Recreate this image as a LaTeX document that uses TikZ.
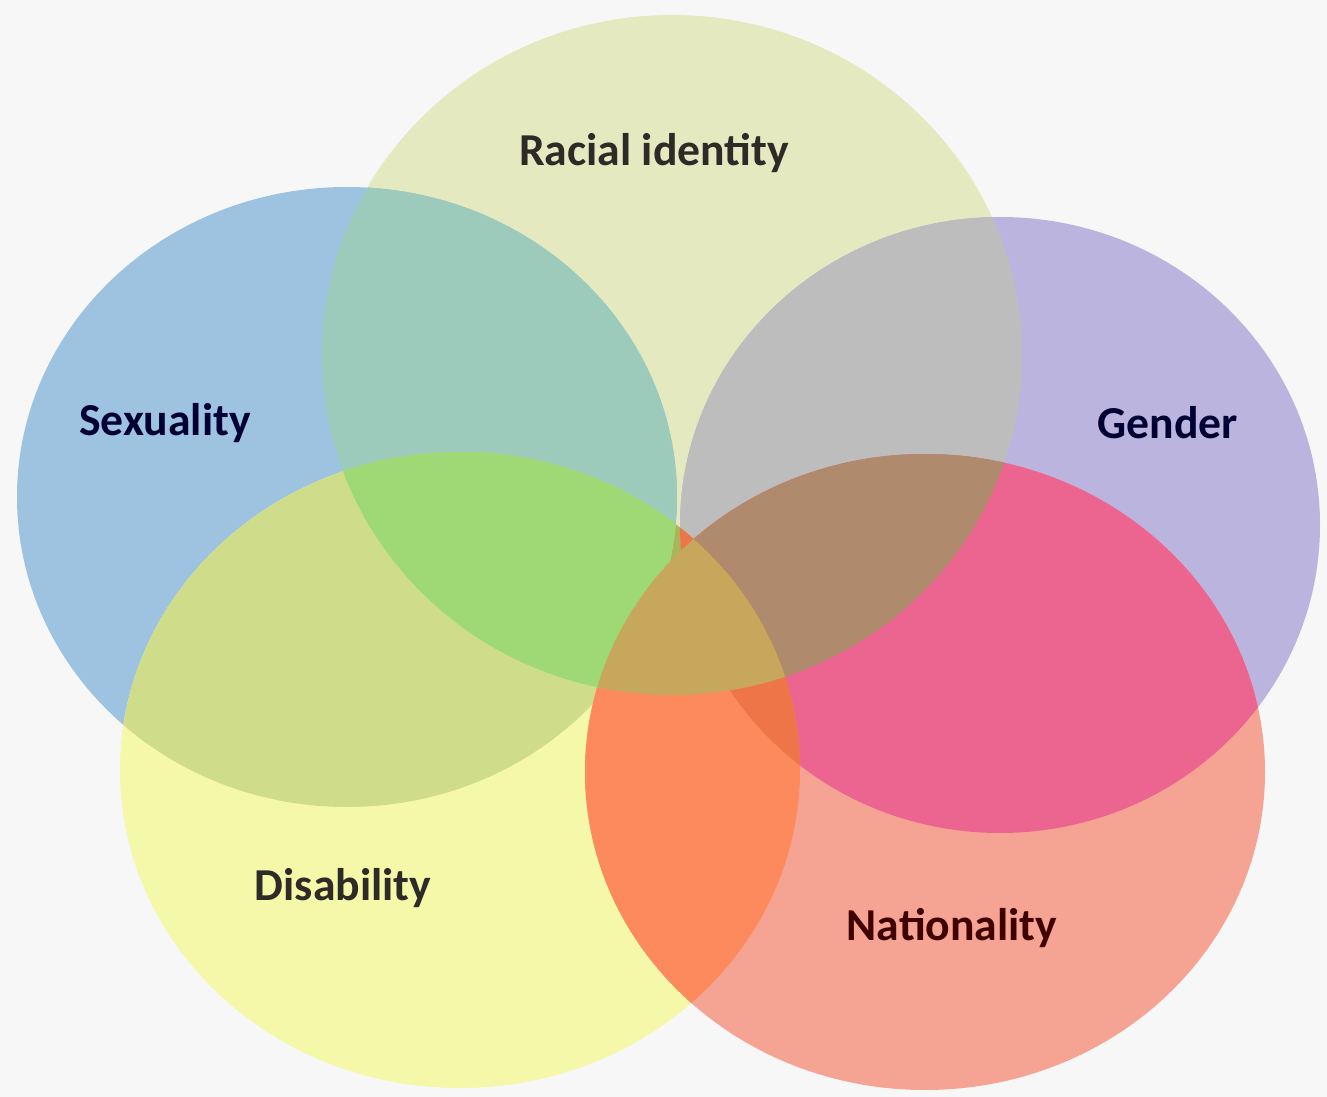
\documentclass[tikz,border=0pt]{standalone}
\usepackage{fontspec}
\setmainfont{Carlito}
\definecolor{bgcol}{HTML}{F7F7F7}
% the five sets
\definecolor{cR}{HTML}{E5E9C0}
\definecolor{cS}{HTML}{9DC3E0}
\definecolor{cG}{HTML}{BAB4DF}
\definecolor{cD}{HTML}{F5F8A8}
\definecolor{cN}{HTML}{F5A393}
% overlaps
\definecolor{cRS}{HTML}{9CCABB}
\definecolor{cRG}{HTML}{BDBDBD}
\definecolor{cSD}{HTML}{CFDD8A}
\definecolor{cGN}{HTML}{EC6591}
\definecolor{cDN}{HTML}{FD8A5D}
\definecolor{cRSD}{HTML}{9FD976}
\definecolor{cRGN}{HTML}{B08A6C}
\definecolor{cGDN}{HTML}{EE7548}
\definecolor{cRDN}{HTML}{C6A75C}
\definecolor{cRSG}{HTML}{6FA69A}
\definecolor{cOlive}{HTML}{A9B55A}
\newcommand{\pathRacial}{(6.72,-3.55) ellipse [x radius=3.5, y radius=3.4]}
\newcommand{\pathSex}{(3.47,-4.97) ellipse [x radius=3.3, y radius=3.1]}
\newcommand{\pathGender}{(10.0,-5.25) ellipse [x radius=3.2, y radius=3.08]}
\newcommand{\pathDis}{(4.6,-7.7) ellipse [x radius=3.4, y radius=3.18]}
\newcommand{\pathNat}{(9.25,-7.72) ellipse [x radius=3.4, y radius=3.18]}
\tikzset{
  lbl/.style={font=\bfseries\fontsize{13}{15}\selectfont, inner sep=0pt}
}
\begin{document}
\begin{tikzpicture}
    \useasboundingbox (0,0) rectangle (13.27,-10.97);
    \fill [bgcol] (0,0) rectangle (13.27,-10.97);
    % single sets
    \fill [cR] \pathRacial;
    \fill [cS] \pathSex;
    \fill [cG] \pathGender;
    \fill [cD] \pathDis;
    \fill [cN] \pathNat;
    % pairs
    \begin{scope} \clip \pathRacial; \fill [cRS] \pathSex; \end{scope}
    \begin{scope} \clip \pathRacial; \fill [cRG] \pathGender; \end{scope}
    \begin{scope} \clip \pathRacial; \fill [cOlive] \pathDis; \end{scope}
    \begin{scope} \clip \pathRacial; \fill [cRDN] \pathNat; \end{scope}
    \begin{scope} \clip \pathSex; \fill [cRSG] \pathGender; \end{scope}
    \begin{scope} \clip \pathSex; \fill [cSD] \pathDis; \end{scope}
    \begin{scope} \clip \pathSex; \fill [cRDN] \pathNat; \end{scope}
    \begin{scope} \clip \pathGender; \fill [cGDN] \pathDis; \end{scope}
    \begin{scope} \clip \pathGender; \fill [cGN] \pathNat; \end{scope}
    \begin{scope} \clip \pathDis; \fill [cDN] \pathNat; \end{scope}
    % triples
    \begin{scope} \clip \pathRacial; \clip \pathSex; \fill [cRSD] \pathDis; \end{scope}
    \begin{scope} \clip \pathRacial; \clip \pathSex; \fill [cRSG] \pathGender; \end{scope}
    \begin{scope} \clip \pathRacial; \clip \pathGender; \fill [cRGN] \pathNat; \end{scope}
    \begin{scope} \clip \pathGender; \clip \pathDis; \fill [cGDN] \pathNat; \end{scope}
    \begin{scope} \clip \pathRacial; \clip \pathDis; \fill [cRDN] \pathNat; \end{scope}
    % labels
    \node [lbl, text=black!90!olive] (racial) at (6.54,-1.53) {Racial identity};
    \node [lbl, text=black!80!blue] (sexuality) at (1.65,-4.23) {Sexuality};
    \node [lbl, text=black!80!blue] (gender) at (11.68,-4.23) {Gender};
    \node [lbl, text=black!90!olive] (disability) at (3.43,-8.88) {Disability};
    \node [lbl, text=black!75!red] (nationality) at (9.52,-9.28) {Nationality};
\end{tikzpicture}
\end{document}
